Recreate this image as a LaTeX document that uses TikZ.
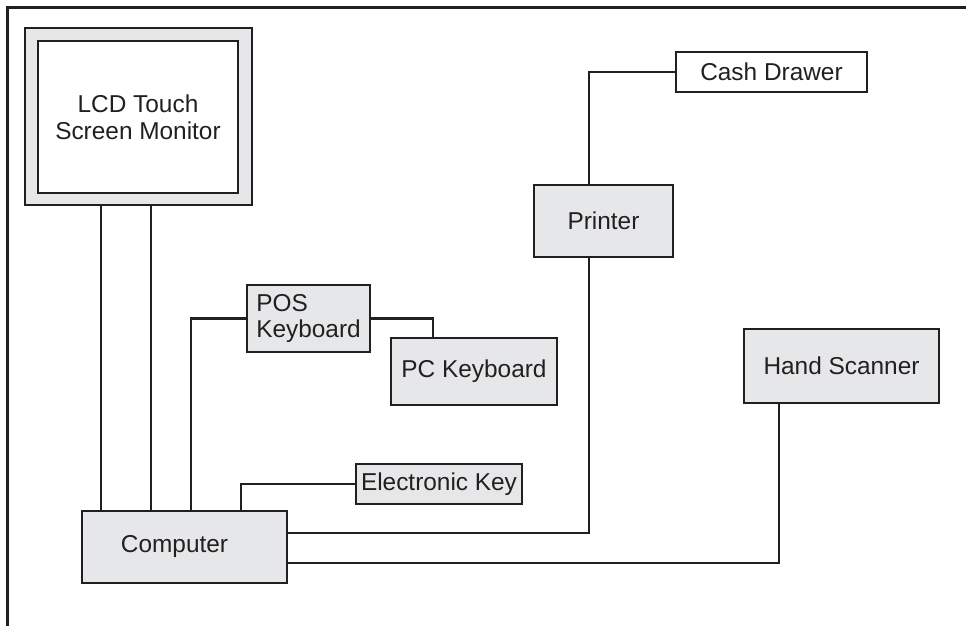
\documentclass[tikz,border=0pt]{standalone}
\usepackage{fontspec}
\setmainfont{Liberation Sans}
\definecolor{ink}{HTML}{231F20}
\definecolor{panel}{HTML}{E6E7E8}
\tikzset{
  unit/.style={draw=ink, line width=1.3pt, fill=panel, inner sep=0pt, text=ink,
    font=\fontsize{12.2pt}{13.3pt}\selectfont, align=center},
  plainbox/.style={unit, fill=white},
  wire/.style={draw=ink, line width=1.05pt},
}
\begin{document}
\begin{tikzpicture}[x=0.5pt, y=-0.5pt]
\useasboundingbox (0,0) rectangle (966,626);

% outer frame (open on the right and bottom)
\draw[wire] (966,7.5) -- (7.5,7.5) -- (7.5,626);

% monitor: bezel and screen
\node[unit, minimum width=113.5pt, minimum height=88.5pt] (bezel) at (138.5,116.5) {};
\node[plainbox, minimum width=100pt, minimum height=76pt] (screen) at (138,117)
  {LCD Touch\\Screen Monitor};

% devices
\node[unit, align=left, minimum width=61.5pt, minimum height=33.5pt] (pos) at (308.5,318.5) {POS\\Keyboard};
\node[unit, minimum width=83pt, minimum height=33.5pt] (pck) at (474,371.5) {PC Keyboard};
\node[unit, minimum width=83pt, minimum height=20pt] (ekey) at (439,484) {Electronic Key};
\node[plainbox, minimum width=95.5pt, minimum height=20pt] (drawer) at (771.5,72) {Cash Drawer};
\node[unit, minimum width=69.5pt, minimum height=36pt] (printer) at (603.5,221) {Printer};
\node[unit, minimum width=97.5pt, minimum height=37pt] (scanner) at (841.5,366) {Hand Scanner};
\node[unit, minimum width=102.5pt, minimum height=36pt,
  label={[xshift=-5pt, text=ink, font=\fontsize{12.2pt}{13.3pt}\selectfont]center:Computer}]
  (comp) at (184.5,547) {};

% cable routing columns and rows
\coordinate (m1) at (101,0);
\coordinate (m2) at (151,0);
\coordinate (k1) at (191,0);
\coordinate (k2) at (433,0);
\coordinate (k3) at (241,0);
\coordinate (k4) at (589,0);
\coordinate (k5) at (779,0);
\coordinate (r1) at (0,533);
\coordinate (r2) at (0,563);

% cables
\draw[wire] (bezel.south -| m1) -- (comp.north -| m1);
\draw[wire] (bezel.south -| m2) -- (comp.north -| m2);
\draw[wire] (pos.west) -| (comp.north -| k1);
\draw[wire] (pos.east) -| (pck.north -| k2);
\draw[wire] (ekey.west) -| (comp.north -| k3);
\draw[wire] (comp.east |- r1) -| (printer.south -| k4);
\draw[wire] (printer.north -| k4) |- (drawer.west);
\draw[wire] (comp.east |- r2) -| (scanner.south -| k5);
\end{tikzpicture}
\end{document}
